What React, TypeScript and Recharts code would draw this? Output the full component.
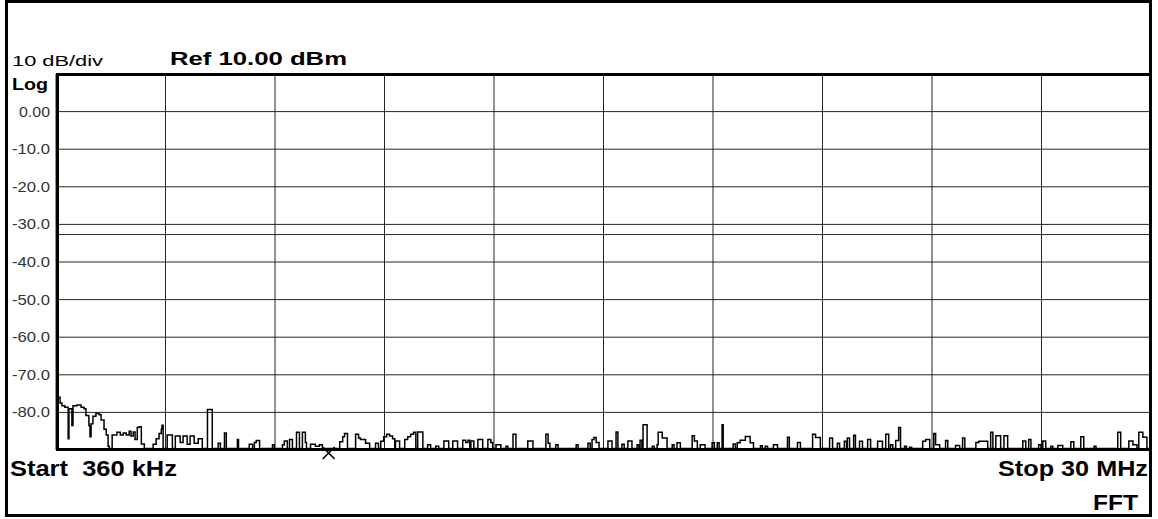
import { LineChart, Line, XAxis, YAxis, CartesianGrid, ReferenceLine, ReferenceDot } from 'recharts'

// sweep: 360 kHz .. 30 MHz, ref 10 dBm, 10 dB/div
const START_MHZ = 0.36
const STOP_MHZ = 30
const xGrid = [0.36, 3.324, 6.288, 9.252, 12.216, 15.18, 18.144, 21.108, 24.072, 27.036, 30]
const yTicks = [10, 0, -10, -20, -30, -40, -50, -60, -70, -80, -90]
const yTickLabels = ['Log', '0.00', '-10.0', '-20.0', '-30.0', '-40.0', '-50.0', '-60.0', '-70.0', '-80.0', '']
const displayLineDbm = -32.7
const markerMHz = 7.74
const markerDbm = -90

// trace as [MHz, dBm] step points
const trace: [number, number][] = [
  [0.36, -75.5], [0.41, -76.0], [0.47, -77.5], [0.52, -78.2], [0.60, -78.6], [0.69, -87.0], [0.71, -79.0],
  [0.79, -83.5], [0.82, -78.2], [0.93, -78.0], [1.04, -78.6], [1.12, -79.0], [1.17, -80.8], [1.25, -83.5],
  [1.28, -86.5], [1.31, -83.0], [1.36, -81.0], [1.44, -80.3], [1.53, -80.6], [1.58, -82.0], [1.66, -84.5],
  [1.72, -86.0], [1.77, -89.0], [1.80, -89.6], [1.88, -86.0], [2.01, -85.3], [2.10, -86.0], [2.18, -85.5],
  [2.26, -86.0], [2.34, -85.0], [2.39, -86.3], [2.45, -85.2], [2.50, -87.2], [2.56, -84.0], [2.61, -83.8],
  [2.67, -88.4], [2.75, -89.6], [2.99, -88.5], [3.07, -87.0], [3.15, -85.6], [3.21, -84.5], [3.23, -83.4],
  [3.26, -89.6], [3.37, -86.0], [3.51, -89.6], [3.59, -86.3], [3.72, -88.0], [3.80, -86.3], [3.91, -88.5],
  [3.99, -86.3], [4.10, -88.2], [4.21, -87.0], [4.32, -89.6], [4.46, -79.2], [4.59, -89.6], [4.75, -88.2],
  [4.81, -89.6], [4.92, -85.5], [4.97, -89.6],
  [5.27, -87.2], [5.30, -89.6], [5.59, -88.5], [5.68, -89.6], [5.73, -88.0], [5.78, -87.5], [5.87, -89.6],
  [6.22, -88.6], [6.27, -89.6], [6.49, -88.6], [6.54, -87.6], [6.62, -89.6], [6.68, -87.2], [6.76, -89.6],
  [6.87, -85.3], [6.95, -89.6], [7.03, -85.3], [7.11, -88.0], [7.14, -89.6], [7.25, -88.5], [7.38, -89.0],
  [7.49, -88.6], [7.57, -89.6], [8.04, -87.8], [8.12, -86.5], [8.17, -85.6], [8.25, -89.6], [8.47, -85.8],
  [8.55, -86.8], [8.60, -87.2], [8.74, -88.2], [8.85, -89.6], [9.01, -88.2], [9.09, -89.6], [9.15, -87.7],
  [9.23, -86.5], [9.31, -85.8], [9.39, -86.3], [9.47, -87.0], [9.53, -89.6], [9.55, -87.6], [9.66, -89.6],
  [9.80, -87.2], [9.88, -86.5], [9.96, -85.8], [10.04, -85.3], [10.10, -89.6], [10.15, -85.2], [10.29, -89.6],
  [10.42, -88.6], [10.50, -89.6], [10.64, -89.0], [10.72, -89.6], [10.86, -87.6], [10.99, -89.6],
  [11.10, -87.6], [11.23, -89.6], [11.37, -87.4], [11.45, -88.0], [11.51, -87.4], [11.56, -89.6],
  [11.59, -87.6], [11.67, -89.6], [11.78, -87.2], [11.91, -89.6], [12.05, -87.2], [12.13, -88.0],
  [12.18, -89.6], [12.27, -88.6], [12.40, -89.6], [12.54, -89.0], [12.59, -89.6], [12.73, -85.8],
  [12.81, -89.6], [13.13, -87.6], [13.27, -89.6], [13.62, -85.8], [13.68, -88.2], [13.73, -89.6],
  [13.89, -88.6], [13.95, -89.6], [14.44, -88.6], [14.49, -89.6], [14.76, -88.2], [14.82, -89.6],
  [14.87, -87.2], [14.92, -86.7], [14.98, -88.0], [15.06, -89.6], [15.30, -87.6], [15.41, -89.6],
  [15.52, -85.2], [15.57, -89.6], [15.68, -88.5], [15.74, -89.6], [15.84, -87.6], [15.95, -89.6],
  [16.09, -88.6], [16.14, -89.6], [16.17, -87.4], [16.22, -89.6], [16.25, -83.3], [16.36, -89.6],
  [16.50, -89.0], [16.55, -89.6], [16.63, -88.6], [16.66, -85.3], [16.77, -86.8], [16.90, -89.6],
  [17.04, -88.6], [17.09, -89.6], [17.17, -88.1], [17.26, -89.6], [17.58, -86.2], [17.64, -87.6],
  [17.72, -89.6], [17.80, -88.6], [17.93, -89.6], [18.12, -88.1], [18.18, -89.6], [18.26, -88.1],
  [18.31, -89.6], [18.39, -83.3], [18.42, -89.6], [18.69, -88.4], [18.75, -89.6], [18.80, -88.1],
  [18.88, -87.4], [19.02, -86.4], [19.15, -88.1], [19.24, -89.6], [19.43, -88.9], [19.48, -89.6],
  [19.56, -89.0], [19.62, -89.6], [19.78, -88.6], [19.89, -89.6], [20.16, -86.6], [20.21, -89.6],
  [20.43, -88.0], [20.51, -89.6], [20.84, -85.8], [20.92, -86.7], [21.05, -89.6], [21.30, -86.8],
  [21.38, -89.6], [21.51, -88.2], [21.57, -89.6], [21.70, -87.7], [21.76, -89.6], [21.78, -86.8],
  [21.84, -89.6], [21.95, -86.1], [22.00, -89.6], [22.11, -87.7], [22.19, -89.6], [22.33, -87.2],
  [22.41, -89.6], [22.60, -87.7], [22.73, -89.6], [22.82, -85.8], [22.90, -89.6], [22.95, -88.6],
  [23.01, -89.6], [23.09, -87.5], [23.17, -84.0], [23.22, -89.6], [23.33, -89.0], [23.38, -89.6],
  [23.47, -89.3], [23.52, -89.6], [23.82, -87.7], [23.90, -87.2], [24.01, -89.6], [24.12, -85.6],
  [24.17, -88.6], [24.28, -89.6], [24.44, -87.5], [24.50, -89.6], [24.71, -88.8], [24.82, -89.6],
  [24.90, -86.8], [24.96, -89.6], [25.26, -88.0], [25.34, -87.7], [25.58, -89.6], [25.66, -85.3],
  [25.72, -89.6], [25.80, -86.2], [25.93, -89.6], [26.02, -86.2], [26.12, -89.6], [26.53, -87.6],
  [26.61, -89.6], [26.69, -87.2], [26.75, -89.6], [26.96, -88.6], [27.02, -89.6], [27.07, -87.6],
  [27.15, -89.6], [27.29, -89.0], [27.34, -89.6], [27.48, -88.8], [27.61, -89.6], [27.83, -87.8],
  [27.91, -89.6], [28.10, -86.5], [28.18, -89.6], [28.46, -89.0], [28.51, -89.6], [29.10, -85.3],
  [29.18, -89.6], [29.40, -87.6], [29.51, -88.6], [29.62, -89.6], [29.67, -85.3], [29.78, -86.6],
  [29.89, -89.6], [30.00, -89.6],
]

const traceData = trace.map(([f, level]) => ({ f, level }))

const FONT = '"Liberation Sans", Arial, sans-serif'

function YTick({ x, y, payload }: any) {
  const label = yTickLabels[yTicks.indexOf(payload.value)]
  if (!label) return null
  if (label === 'Log') {
    return (
      <text x={12} y={y + 15.5} fontFamily={FONT} fontSize={17} fontWeight="bold" fill="#000"
        textLength={36} lengthAdjust="spacingAndGlyphs">Log</text>
    )
  }
  return (
    <text x={x} y={y + 5} textAnchor="end" fontFamily={FONT} fontSize={15} fill="#333"
      textLength={label === '0.00' ? 31 : 38} lengthAdjust="spacingAndGlyphs">{label}</text>
  )
}

function Marker({ cx, cy }: any) {
  if (cx == null || cy == null) return null
  const c = cy + 3
  return (
    <path d={`M${cx - 6} ${c - 6} L${cx + 6} ${c + 6} M${cx - 6} ${c + 6} L${cx + 6} ${c - 6}`}
      stroke="#000" strokeWidth={1.6} fill="none" />
  )
}

export default function App() {
  return (
    <div style={{ position: 'fixed', left: 0, top: 0, width: 1158, height: 519, background: '#fff', overflow: 'hidden' }}>
      <div style={{ position: 'absolute', left: 0, top: 0 }}>
        <LineChart width={1158} height={519} data={traceData}
          margin={{ top: 74, right: 7, left: 0, bottom: 69 }}>
          <CartesianGrid stroke="#262626" strokeWidth={1}
            verticalValues={xGrid} horizontalValues={yTicks} />
          <XAxis type="number" dataKey="f" domain={[START_MHZ, STOP_MHZ]} ticks={xGrid}
            allowDataOverflow hide />
          <YAxis type="number" domain={[-90, 10]} ticks={yTicks} width={56}
            axisLine={false} tickLine={false} tickSize={0} tickMargin={6}
            interval={0} tick={<YTick />} allowDataOverflow />
          <ReferenceLine y={displayLineDbm} stroke="#262626" strokeWidth={1} />
          <Line type="stepAfter" dataKey="level" stroke="#000" strokeWidth={1.5}
            dot={false} isAnimationActive={false} />
          <ReferenceDot x={markerMHz} y={markerDbm} r={0} ifOverflow="visible" shape={<Marker />} />
        </LineChart>
      </div>

      {/* plot frame and outer frame */}
      <div style={{ position: 'absolute', left: 56, top: 73, width: 1096, height: 378,
        border: '3px solid #000', boxSizing: 'border-box', pointerEvents: 'none' }} />
      <div style={{ position: 'absolute', left: 5, top: 0, width: 1147, height: 517,
        border: '3px solid #000', boxSizing: 'border-box', pointerEvents: 'none' }} />

      <svg width={1158} height={519} style={{ position: 'absolute', left: 0, top: 0, pointerEvents: 'none' }}>
        <text x={12} y={65.5} fontFamily={FONT} fontSize={15} fill="#000"
          textLength={91} lengthAdjust="spacingAndGlyphs">10 dB/div</text>
        <text x={170} y={65} fontFamily={FONT} fontSize={18.5} fontWeight="bold" fill="#000"
          textLength={177} lengthAdjust="spacingAndGlyphs">Ref 10.00 dBm</text>
        <text x={10} y={475.5} fontFamily={FONT} fontSize={21.5} fontWeight="bold" fill="#000"
          textLength={167} lengthAdjust="spacingAndGlyphs">{'Start\u00a0\u00a0360 kHz'}</text>
        <text x={1148} y={475.5} textAnchor="end" fontFamily={FONT} fontSize={21.5} fontWeight="bold" fill="#000"
          textLength={150} lengthAdjust="spacingAndGlyphs">Stop 30 MHz</text>
        <text x={1138} y={510} textAnchor="end" fontFamily={FONT} fontSize={21.5} fontWeight="bold" fill="#000"
          textLength={45} lengthAdjust="spacingAndGlyphs">FFT</text>
      </svg>
    </div>
  )
}
